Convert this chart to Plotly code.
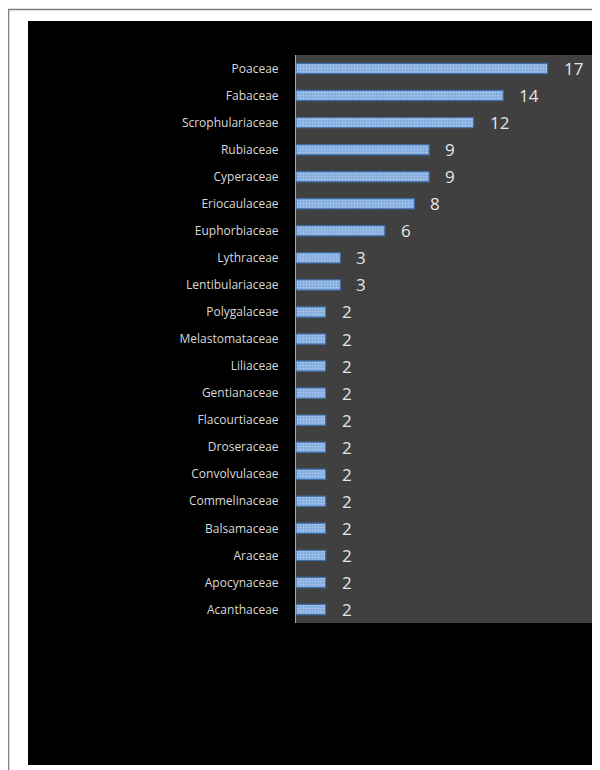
import plotly.graph_objects as go

families = ["Poaceae", "Fabaceae", "Scrophulariaceae", "Rubiaceae", "Cyperaceae",
            "Eriocaulaceae", "Euphorbiaceae", "Lythraceae", "Lentibulariaceae",
            "Polygalaceae", "Melastomataceae", "Liliaceae", "Gentianaceae",
            "Flacourtiaceae", "Droseraceae", "Convolvulaceae", "Commelinaceae",
            "Balsamaceae", "Araceae", "Apocynaceae", "Acanthaceae"]
counts = [17, 14, 12, 9, 9, 8, 6, 3, 3, 2, 2, 2, 2, 2, 2, 2, 2, 2, 2, 2, 2]

OFF = 8  # page body margin
W, H = 600 - OFF, 770 - OFF
L, R, T, B = 296 - OFF, 8, 55 - OFF, 770 - 623
pw = W - L - R
ph = H - T - B

def px_x(x):
    return (x - OFF - L) / pw

def px_y(y):
    return (H - B - (y - OFF)) / ph

fig = go.Figure()
fig.add_trace(go.Bar(
    x=counts, y=families, orientation="h",
    marker=dict(color="#82abde", line=dict(color="#3d6ea6", width=1.2),
                pattern=dict(shape=".", fgcolor="#d8e6f7", size=3, solidity=0.35)),
    hoverinfo="x+y",
))

for f, c in zip(families, counts):
    fig.add_annotation(x=c, y=f, text=str(c), showarrow=False, xanchor="left",
                       xshift=14, font=dict(family="Open Sans", size=17, color="#e6e6e6"))

shapes = [
    dict(type="rect", xref="paper", yref="paper", x0=px_x(28), x1=px_x(592),
         y0=px_y(765), y1=px_y(21), fillcolor="black", line=dict(width=0), layer="below"),
    dict(type="rect", xref="paper", yref="paper", x0=0, x1=1, y0=0, y1=1,
         fillcolor="#404040", line=dict(width=0), layer="below"),
    dict(type="line", xref="paper", yref="paper", x0=px_x(8.5), x1=px_x(8.5),
         y0=px_y(770), y1=px_y(9.5), line=dict(color="#7f7f7f", width=1.5)),
    dict(type="line", xref="paper", yref="paper", x0=px_x(8), x1=px_x(600),
         y0=px_y(9.5), y1=px_y(9.5), line=dict(color="#7f7f7f", width=1.5)),
]

fig.update_layout(
    width=W, height=H,
    margin=dict(l=L, r=R, t=T, b=B, pad=0),
    paper_bgcolor="white", plot_bgcolor="#404040",
    bargap=0.62, showlegend=False, shapes=shapes,
    xaxis=dict(range=[0, 20], showticklabels=False, showgrid=False, zeroline=False,
               ticks="", fixedrange=True),
    yaxis=dict(autorange="reversed", showgrid=False, zeroline=False,
               showline=True, linecolor="#a6a6a6", linewidth=1,
               ticks="", ticklabelstandoff=14,
               tickfont=dict(family="Open Sans", size=12, color="#d9d9d9")),
)

fig.write_html("out.html")
